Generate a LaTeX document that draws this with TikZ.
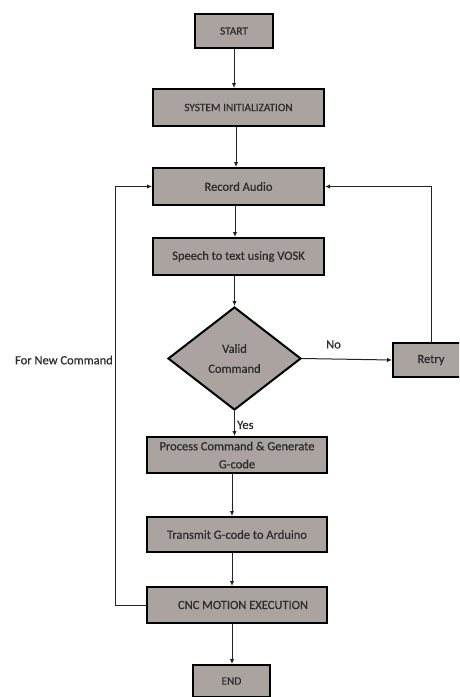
\documentclass[tikz,border=0pt]{standalone}
\usepackage{fontspec}
\setmainfont{Carlito}[FakeBold=0.6]
\usetikzlibrary{shapes.geometric,arrows.meta}
\definecolor{boxgray}{RGB}{170,163,160}
\definecolor{txtgray}{RGB}{45,45,45}
\definecolor{linegray}{RGB}{35,35,35}
\begin{document}
\begin{tikzpicture}[x=1pt,y=-1pt,
  stepbox/.style={draw=black, line width=2pt, fill=boxgray, text=txtgray, inner sep=0pt, align=center, font=\fontsize{12.5}{13}\selectfont},
  capbox/.style={stepbox, font=\fontsize{11.3}{12}\selectfont},
  decision/.style={diamond, draw=black, line width=2pt, fill=boxgray, text=txtgray, inner sep=0pt, align=center, font=\fontsize{12.5}{20}\selectfont, minimum width=133pt, minimum height=103pt, aspect=1.29},
  arr/.style={draw=linegray, line width=1pt, -{Latex[length=5pt,width=4.5pt]}},
  lbl/.style={text=txtgray, inner sep=0pt, font=\fontsize{12.5}{13}\selectfont}]
\useasboundingbox (0,0) rectangle (459,697);
\clip (0,0) rectangle (459,697);
\fill[white] (0,0) rectangle (459,697);
\node[capbox, minimum width=78pt, minimum height=34pt] (start) at (234,31) {START};
\node[capbox, minimum width=171pt, minimum height=37pt] (sys) at (238.5,107.5) {SYSTEM INITIALIZATION};
\node[stepbox, minimum width=171pt, minimum height=37pt] (rec) at (238.5,186.5) {Record Audio};
\node[stepbox, minimum width=171pt, minimum height=37pt] (stt) at (238.5,256.5) {Speech to text using VOSK};
\node[decision] (valid) at (234.5,358.5) {Valid\\Command};
\node[stepbox, minimum width=76pt, minimum height=34pt] (retry) at (431,360) {Retry};
\node[stepbox, minimum width=180pt, minimum height=36pt, font=\fontsize{12.5}{18}\selectfont] (proc) at (237,455) {Process Command \& Generate\\G-code};
\node[stepbox, minimum width=180pt, minimum height=35pt] (tx) at (237,534.5) {Transmit G-code to Arduino};
\node[stepbox, minimum width=180pt, minimum height=36pt] (cnc) at (237,605) {\hspace*{12pt}CNC MOTION EXECUTION};
\node[capbox, minimum width=77pt, minimum height=32pt] (end) at (231.5,681) {END};
\coordinate (lx) at (115,0);
\draw[arr] (start.south) -- (start.south |- sys.north);
\draw[arr] (sys.south -| 236,0) -- (rec.north -| 236,0);
\draw[arr] (rec.south -| 235,0) -- (stt.north -| 235,0);
\draw[arr] (stt.south -| valid.north) -- (valid.north);
\draw[arr] (valid.east) -- node[lbl, above=10pt, pos=0.35] (no) {No} (retry.west);
\draw[arr] (retry.north) |- (rec.east);
\draw[arr] (valid.south) -- (valid.south |- proc.north);
\node[lbl, anchor=west] (yes) at (237,425) {Yes};
\draw[arr] (proc.south -| 232,0) -- (tx.north -| 232,0);
\draw[arr] (tx.south -| 232,0) -- (cnc.north -| 232,0);
\draw[arr] (cnc.south -| 232,0) -- (end.north -| 232,0);
\draw[arr] (cnc.west) -| (lx |- rec.west) -- (rec.west);
\node[lbl, anchor=east] (fnc) at (113,360) {For New Command};
\end{tikzpicture}
\end{document}
